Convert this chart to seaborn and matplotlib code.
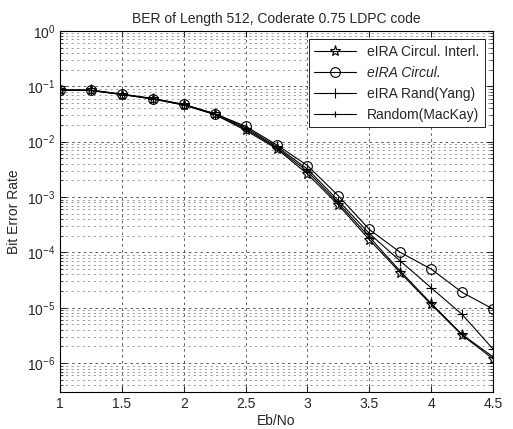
import numpy as np
import pandas as pd
import seaborn as sns
from matplotlib import pyplot as plt
from matplotlib.ticker import FixedLocator, MultipleLocator, NullFormatter

# values
ebno = [1.0, 1.25, 1.5, 1.75, 2.0, 2.25, 2.5, 2.75, 3.0, 3.25, 3.5, 3.75, 4.0, 4.25, 4.5]
ber_circ_interl = [0.085, 0.084, 0.071, 0.059, 0.046, 0.031, 0.016, 0.0075, 0.0026,
                   7.2e-4, 1.7e-4, 4.3e-5, 1.15e-5, 3.2e-6, 1.2e-6]
ber_circ = [0.086, 0.085, 0.072, 0.060, 0.047, 0.032, 0.019, 0.0088, 0.0037,
            1.05e-3, 2.6e-4, 1.0e-4, 5.0e-5, 1.9e-5, 9.5e-6]
ber_rand_yang = [0.086, 0.085, 0.072, 0.060, 0.047, 0.032, 0.018, 0.0082, 0.0032,
                 8.6e-4, 2.2e-4, 7.0e-5, 2.3e-5, 7.6e-6, 1.8e-6]
ber_mackay = [0.085, 0.084, 0.071, 0.059, 0.046, 0.031, 0.017, 0.0078, 0.0029,
              7.8e-4, 1.9e-4, 4.6e-5, 1.2e-5, 3.3e-6, 1.3e-6]
y_decades = [1e-6, 1e-5, 1e-4, 1e-3, 1e-2, 1e-1, 1e0]

series = [
    ('eIRA Circul. Interl.', ber_circ_interl, '*', 8),
    ('eIRA Circul.', ber_circ, 'o', 7),
    ('eIRA Rand(Yang)', ber_rand_yang, '+', 7),
    ('Random(MacKay)', ber_mackay, '+', 5),
]

sns.set_style('ticks')
plt.rcParams['font.family'] = ['Liberation Sans', 'DejaVu Sans']
plt.rcParams['mathtext.default'] = 'regular'
plt.rcParams['font.size'] = 10

fig = plt.figure(figsize=(5.13, 4.29), dpi=100)
ax = fig.add_axes([0.117, 0.086, 0.844, 0.842])

for name, vals, mk, ms in series:
    df = pd.DataFrame({'x': ebno, 'y': vals})
    sns.lineplot(data=df, x='x', y='y', ax=ax, color='k', linewidth=0.8,
                 marker=mk, markersize=ms, markerfacecolor='none',
                 markeredgecolor='k', markeredgewidth=0.8, label=name)

ax.set_yscale('log')
ax.set_xlim(1, 4.5)
ax.set_ylim(3e-7, 1)
ax.xaxis.set_major_locator(MultipleLocator(0.5))
ax.xaxis.set_major_formatter(plt.FuncFormatter(lambda v, p: f'{v:g}'))
ax.yaxis.set_major_locator(FixedLocator(y_decades))
minor = [m * d for d in [1e-7] + y_decades[:-1] for m in range(2, 10)]
ax.yaxis.set_minor_locator(FixedLocator([v for v in minor if v >= 3e-7]))
ax.yaxis.set_minor_formatter(NullFormatter())

ax.grid(which='major', linestyle=(0, (3, 4)), color='0.25', linewidth=0.6)
ax.grid(which='minor', axis='y', linestyle=(0, (3, 5)), color='0.45', linewidth=0.5)
ax.tick_params(which='both', direction='in', top=True, right=True, labelsize=10)
ax.tick_params(which='major', length=4)
ax.tick_params(which='minor', length=2)
for s in ax.spines.values():
    s.set_color('k')
    s.set_linewidth(0.8)

ax.set_title('BER of Length 512, Coderate 0.75 LDPC code', fontsize=10, pad=6)
ax.set_xlabel('Eb/No', fontsize=10, labelpad=2)
ax.set_ylabel('Bit Error Rate', fontsize=10, labelpad=4)

leg = ax.legend(loc='upper right', fontsize=10, frameon=True, fancybox=False,
                framealpha=1, edgecolor='k', borderaxespad=0.6, handlelength=3)
leg.get_frame().set_linewidth(0.6)
leg.get_texts()[1].set_style('italic')

fig.savefig('out.png', dpi=100)
